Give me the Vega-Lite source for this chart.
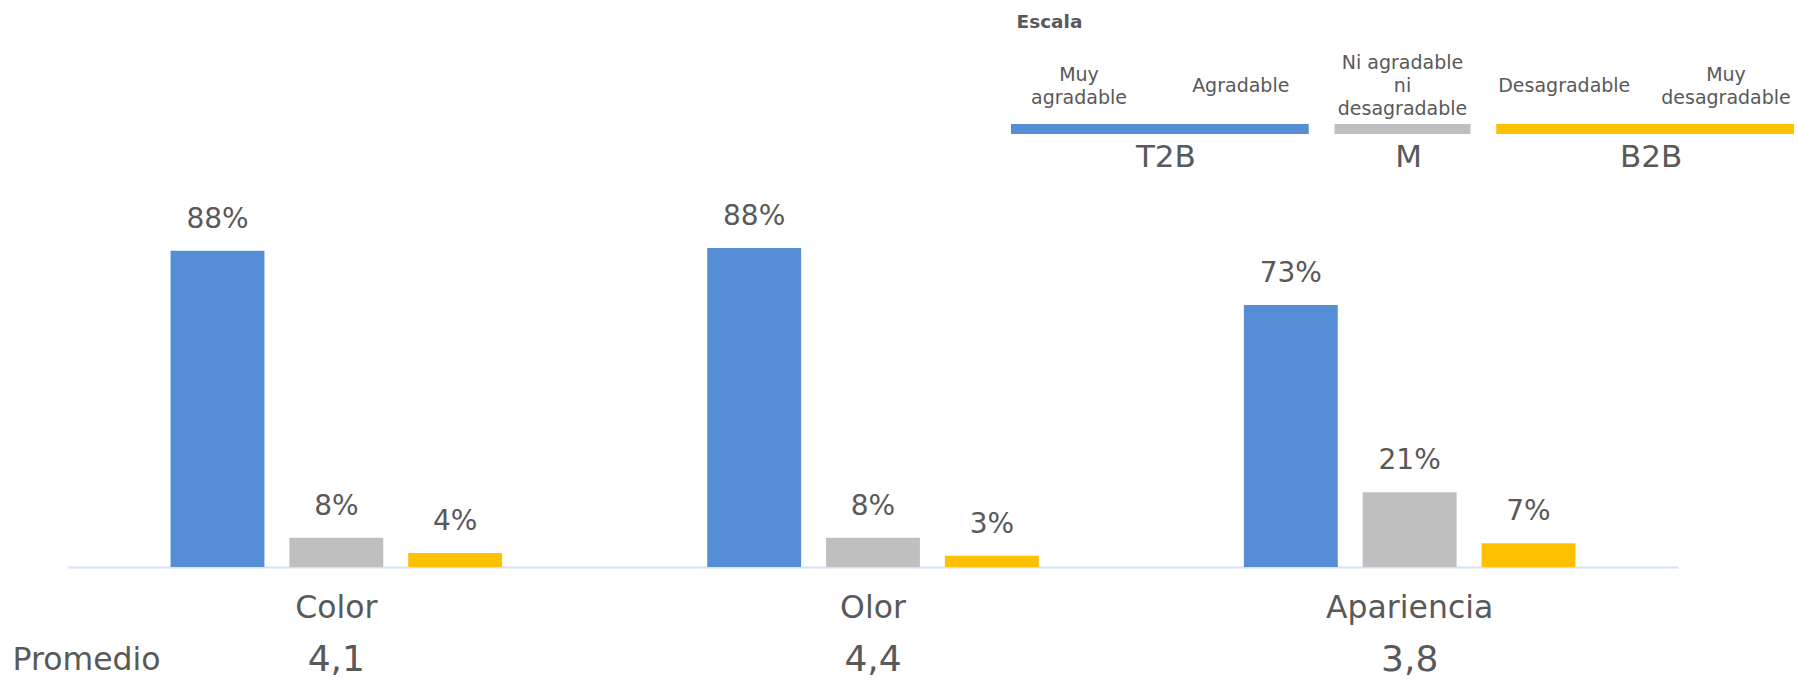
{
  "$schema": "https://vega.github.io/schema/vega-lite/v6.json",
  "width": 1798,
  "height": 680,
  "padding": 0,
  "autosize": {"type": "none"},
  "config": {
    "view": {"stroke": null},
    "font": "DejaVu Sans",
    "locale": {"number": {"decimal": ",", "thousands": ".", "grouping": [3], "currency": ["", " €"]}}
  },
  "datasets": {
    "valores": [
      {"categoria": "Color", "nivel": "T2B", "valor": 0.876},
      {"categoria": "Color", "nivel": "M", "valor": 0.081},
      {"categoria": "Color", "nivel": "B2B", "valor": 0.039},
      {"categoria": "Olor", "nivel": "T2B", "valor": 0.884},
      {"categoria": "Olor", "nivel": "M", "valor": 0.081},
      {"categoria": "Olor", "nivel": "B2B", "valor": 0.031},
      {"categoria": "Apariencia", "nivel": "T2B", "valor": 0.726},
      {"categoria": "Apariencia", "nivel": "M", "valor": 0.207},
      {"categoria": "Apariencia", "nivel": "B2B", "valor": 0.066}
    ],
    "promedios": [
      {"categoria": "Color", "fila": "Promedio", "promedio": 4.1},
      {"categoria": "Olor", "fila": "Promedio", "promedio": 4.4},
      {"categoria": "Apariencia", "fila": "Promedio", "promedio": 3.8}
    ],
    "escala": [
      {"opcion": "Muy agradable", "valor": 5, "grupo": "T2B"},
      {"opcion": "Agradable", "valor": 4, "grupo": "T2B"},
      {"opcion": "Ni agradable ni desagradable", "valor": 3, "grupo": "M"},
      {"opcion": "Desagradable", "valor": 2, "grupo": "B2B"},
      {"opcion": "Muy desagradable", "valor": 1, "grupo": "B2B"}
    ]
  },
  "resolve": {
    "scale": {"x": "independent", "y": "independent"},
    "axis": {"x": "independent", "y": "independent"}
  },
  "layer": [
    {
      "data": {"name": "valores"},
      "encoding": {
        "x": {
          "field": "categoria",
          "type": "nominal",
          "scale": {"domain": ["Color", "Olor", "Apariencia"], "range": [68, 1678], "paddingInner": 0, "paddingOuter": 0},
          "axis": {
            "orient": "bottom",
            "offset": -113,
            "domainColor": "#D6E2F4",
            "domainWidth": 2,
            "ticks": false,
            "grid": false,
            "labelFontSize": 31.5,
            "labelColor": "#595959",
            "labelPadding": 41,
            "labelBaseline": "middle",
            "labelAngle": 0,
            "title": null
          }
        },
        "xOffset": {
          "field": "nivel",
          "type": "nominal",
          "scale": {"domain": ["T2B", "M", "B2B"], "paddingInner": 0.21, "paddingOuter": 0.863}
        },
        "y": {
          "field": "valor",
          "type": "quantitative",
          "scale": {"domain": [0, 1], "range": [567, 206], "nice": false, "zero": true},
          "axis": null
        }
      },
      "layer": [
        {
          "mark": {"type": "bar"},
          "encoding": {
            "color": {
              "field": "nivel",
              "type": "nominal",
              "scale": {"domain": ["T2B", "M", "B2B"], "range": ["#558ED5", "#BFBFBF", "#FFC000"]},
              "legend": null
            }
          }
        },
        {
          "mark": {"type": "text", "baseline": "middle", "dy": -31, "fontSize": 28, "color": "#595959"},
          "encoding": {
            "text": {"field": "valor", "type": "quantitative", "format": ".0%"}
          }
        }
      ]
    },
    {
      "data": {"name": "promedios"},
      "mark": {"type": "text", "fontSize": 36, "color": "#595959", "baseline": "middle"},
      "encoding": {
        "x": {
          "field": "categoria",
          "type": "nominal",
          "scale": {"domain": ["Color", "Olor", "Apariencia"], "range": [68, 1678], "paddingInner": 0, "paddingOuter": 0},
          "axis": null
        },
        "y": {
          "field": "fila",
          "type": "nominal",
          "scale": {"type": "point", "domain": ["Promedio"], "range": [640, 680], "padding": 0},
          "axis": {
            "orient": "left",
            "domain": false,
            "ticks": false,
            "grid": false,
            "labelAlign": "left",
            "labelPadding": -12,
            "labelFontSize": 31.5,
            "labelColor": "#595959",
            "labelBaseline": "middle",
            "title": null
          }
        },
        "text": {"field": "promedio", "type": "quantitative", "format": ".1f"}
      }
    },
    {
      "data": {"name": "escala"},
      "layer": [
        {
          "mark": {"type": "rule", "strokeWidth": 10, "strokeCap": "butt", "xOffset": -68, "x2Offset": 68, "yOffset": 7},
          "encoding": {
            "x": {
              "aggregate": "max",
              "field": "valor",
              "type": "quantitative",
              "scale": {"domain": [1, 5], "range": [1726, 1079], "nice": false, "zero": false},
              "axis": {
                "orient": "top",
                "labels": false,
                "ticks": false,
                "domain": false,
                "grid": false,
                "title": "Escala",
                "titleX": 1016,
                "titleY": 21,
                "titleAlign": "left",
                "titleBaseline": "middle",
                "titleAngle": 0,
                "titleFontSize": 18.5,
                "titleFontWeight": "bold",
                "titleColor": "#595959"
              }
            },
            "x2": {"aggregate": "min", "field": "valor"},
            "y": {
              "datum": "barra",
              "type": "nominal",
              "scale": {"type": "point", "domain": ["opciones", "barra", "grupo"], "range": [86, 158], "padding": 0},
              "axis": null
            },
            "color": {
              "field": "grupo",
              "type": "nominal",
              "scale": {"domain": ["T2B", "M", "B2B"], "range": ["#558ED5", "#BFBFBF", "#FFC000"]},
              "legend": null
            }
          }
        },
        {
          "mark": {"type": "text", "fontSize": 31, "color": "#595959", "baseline": "middle", "dx": 6},
          "encoding": {
            "x": {
              "aggregate": "mean",
              "field": "valor",
              "type": "quantitative",
              "scale": {"domain": [1, 5], "range": [1726, 1079], "nice": false, "zero": false}
            },
            "y": {
              "datum": "grupo",
              "type": "nominal",
              "scale": {"type": "point", "domain": ["opciones", "barra", "grupo"], "range": [86, 158], "padding": 0},
              "axis": null
            },
            "text": {"field": "grupo", "type": "nominal"}
          }
        },
        {
          "mark": {
            "type": "text",
            "fontSize": 19,
            "color": "#595959",
            "baseline": "middle",
            "lineHeight": 23,
            "lineBreak": {"expr": "regexp('(?<=^Muy) | (?=ni )|(?<= ni) ')"},
            "dy": {"expr": "-11.5 * (length(split(datum.opcion, regexp('(?<=^Muy) | (?=ni )|(?<= ni) '))) - 1)"}
          },
          "encoding": {
            "x": {
              "field": "valor",
              "type": "quantitative",
              "scale": {"domain": [1, 5], "range": [1726, 1079], "nice": false, "zero": false}
            },
            "y": {
              "datum": "opciones",
              "type": "nominal",
              "scale": {"type": "point", "domain": ["opciones", "barra", "grupo"], "range": [86, 158], "padding": 0},
              "axis": null
            },
            "text": {"field": "opcion", "type": "nominal"}
          }
        }
      ]
    }
  ]
}
